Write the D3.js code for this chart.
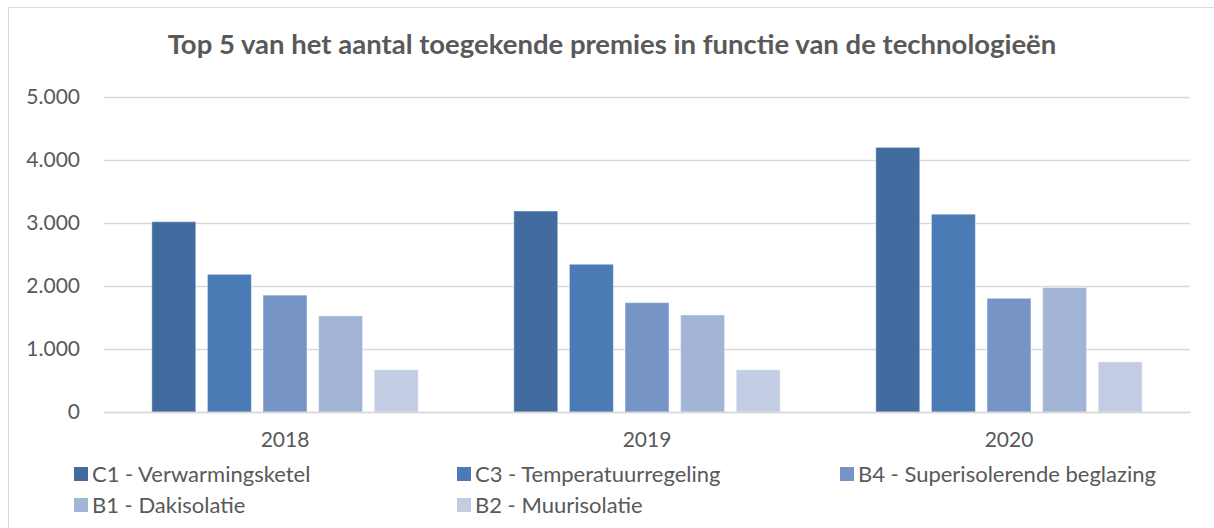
<!DOCTYPE html>
<html>
<head>
<meta charset="utf-8">
<script src="https://cdn.jsdelivr.net/npm/d3@7"></script>
<style>
  body { margin: 0; background: #fff; }
  svg { display: block; font-family: Lato, "Open Sans", sans-serif; }
</style>
</head>
<body>
<script>
// Data
const years = ["2018", "2019", "2020"];
const series = [
  "C1 - Verwarmingsketel",
  "C3 - Temperatuurregeling",
  "B4 - Superisolerende beglazing",
  "B1 - Dakisolatie",
  "B2 - Muurisolatie"
];
const c1 = [3020, 3190, 4200];
const c3 = [2185, 2345, 3140];
const b4 = [1855, 1735, 1805];
const b1 = [1525, 1540, 1975];
const b2 = [670, 670, 795];
const yTicks = [0, 1000, 2000, 3000, 4000, 5000];
const colors = ["#426ca0", "#4a7bb4", "#7695c6", "#a3b5d6", "#c2cde3"];

const values = [c1, c3, b4, b1, b2];

const width = 1214;
const height = 528;
const plot = { left: 104, right: 1190, top: 97, bottom: 412 };

const svg = d3.select("body")
  .append("svg")
  .attr("width", width)
  .attr("height", height);

// Chart frame
svg.append("rect")
  .attr("x", 8.5)
  .attr("y", 7.5)
  .attr("width", 1220)
  .attr("height", 540)
  .style("fill", "none")
  .style("stroke", "#d9d9d9");

// Title
svg.append("text")
  .attr("x", 612)
  .attr("y", 54)
  .attr("text-anchor", "middle")
  .style("font-size", "27.5px")
  .style("font-weight", "bold")
  .style("fill", "#595959")
  .text("Top 5 van het aantal toegekende premies in functie van de technologieën");

const y = d3.scaleLinear()
  .domain([0, 5000])
  .range([plot.bottom, plot.top]);

const x0 = d3.scaleBand()
  .domain(years)
  .range([plot.left, plot.right])
  .paddingInner(0.232)
  .paddingOuter(0.116);

const x1 = d3.scaleBand()
  .domain(series)
  .range([0, x0.bandwidth()])
  .paddingInner(0.21)
  .paddingOuter(0.105);

const fmt = (v) => d3.format(",")(v).replace(/,/g, ".");

// Gridlines
svg.append("g")
  .selectAll("line")
  .data(yTicks)
  .join("line")
  .attr("x1", plot.left)
  .attr("x2", plot.right)
  .attr("y1", (d) => Math.round(y(d)) + 0.5)
  .attr("y2", (d) => Math.round(y(d)) + 0.5)
  .style("stroke", "#d9d9d9")
  .style("stroke-width", 1.5);

// Y axis labels
const yAxis = svg.append("g")
  .attr("transform", `translate(${plot.left},0)`)
  .call(d3.axisLeft(y).tickValues(yTicks).tickFormat(fmt).tickSize(0).tickPadding(24));
yAxis.select(".domain").remove();
yAxis.selectAll("text")
  .style("font-family", "Lato, 'Open Sans', sans-serif")
  .style("font-size", "21px")
  .style("fill", "#595959");

// Bars
const groups = svg.append("g")
  .selectAll("g")
  .data(years)
  .join("g")
  .attr("transform", (d) => `translate(${x0(d)},0)`);

groups.selectAll("rect")
  .data((yr, i) => series.map((s, j) => ({ s, j, v: values[j][i] })))
  .join("rect")
  .attr("x", (d) => x1(d.s))
  .attr("y", (d) => y(d.v))
  .attr("width", x1.bandwidth())
  .attr("height", (d) => y(0) - y(d.v))
  .style("fill", (d) => colors[d.j])
  .style("stroke", "#ffffff")
  .style("stroke-opacity", 0.4)
  .style("stroke-width", 1);

// X axis
const xAxis = svg.append("g")
  .attr("transform", `translate(0,${plot.bottom})`)
  .call(d3.axisBottom(x0).tickSize(0).tickPadding(20));
xAxis.select(".domain")
  .style("stroke", "#d9d9d9")
  .style("stroke-width", 1.5);
xAxis.selectAll("text")
  .style("font-family", "Lato, 'Open Sans', sans-serif")
  .style("font-size", "21px")
  .style("fill", "#595959");

// Legend
const legendPos = [
  [74, 474], [457, 474], [840, 474],
  [74, 505], [457, 505]
];
const legend = svg.append("g")
  .selectAll("g")
  .data(series)
  .join("g")
  .attr("transform", (d, i) => `translate(${legendPos[i][0]},${legendPos[i][1]})`);

legend.append("rect")
  .attr("x", 0)
  .attr("y", -7)
  .attr("width", 14)
  .attr("height", 14)
  .style("fill", (d, i) => colors[i]);

legend.append("text")
  .attr("x", 18)
  .attr("y", 0)
  .attr("dy", "0.35em")
  .style("font-size", "22px")
  .style("fill", "#595959")
  .text((d) => d);
</script>
</body>
</html>
